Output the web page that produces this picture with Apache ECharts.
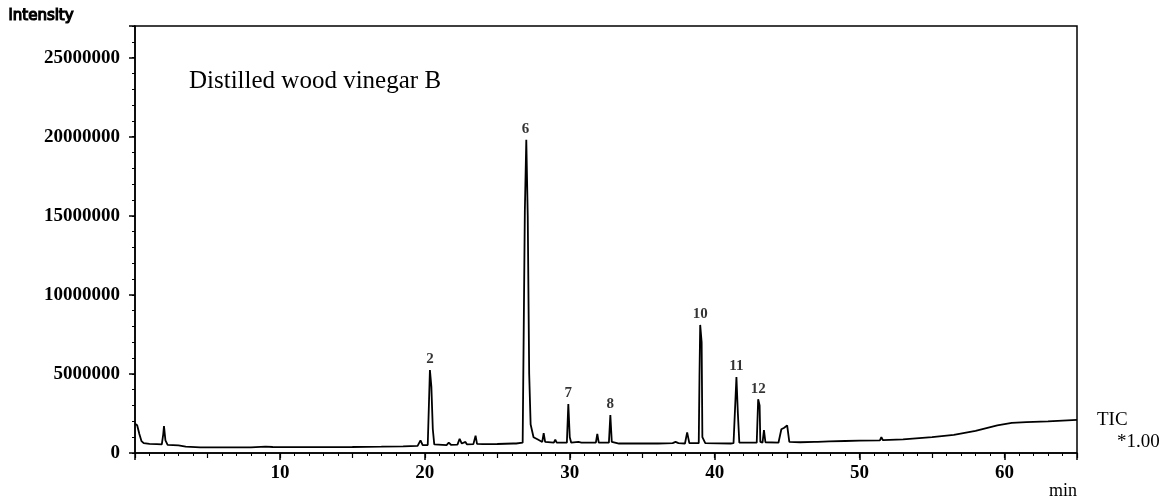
<!DOCTYPE html>
<html>
<head>
<meta charset="utf-8">
<title>Distilled wood vinegar B</title>
<script src="https://cdn.jsdelivr.net/npm/echarts@6/dist/echarts.min.js"></script>
<style>
  html, body { margin: 0; padding: 0; background: #fff; }
  #main { width: 1165px; height: 501px; }
</style>
</head>
<body>
<div id="main"></div>
<script>
// retention time (min) and intensity
const times = [
  0.0, 0.05, 0.15, 0.3, 0.45, 0.6, 1.0, 1.5, 1.85, 1.95, 2.0, 2.1, 2.25, 3.0, 3.5, 4.5,
  6.0, 8.0, 9.0, 9.5, 12.0, 15.0, 17.0, 18.5, 19.5, 19.7, 19.85, 20.2, 20.35, 20.45,
  20.55, 20.65, 21.5, 21.65, 21.8, 22.25, 22.4, 22.55, 22.8, 22.9, 23.0, 23.35, 23.5,
  23.6, 24.0, 25.0, 26.1, 26.2, 26.3, 26.75, 26.9, 27.0, 27.1, 27.2, 27.3, 27.5, 27.8,
  28.1, 28.2, 28.3, 28.4, 28.9, 29.0, 29.1, 29.8, 29.9, 30.0, 30.1, 30.6, 30.7, 30.8,
  31.8, 31.9, 32.0, 32.7, 32.8, 32.9, 33.4, 35.9, 36.0, 36.1, 37.1, 37.3, 37.5, 37.95,
  38.1, 38.25, 38.9, 38.95, 39.0, 39.1, 39.15, 39.35, 41.1, 41.2, 41.3, 41.4, 41.5,
  41.6, 41.7, 42.9, 43.0, 43.1, 43.15, 43.3, 43.4, 43.5, 44.4, 44.6, 44.8, 45.0, 45.15,
  45.9, 46.9, 47.0, 47.1, 47.9, 49.0, 50.0, 51.4, 51.5, 51.6, 53.0, 55.0, 56.5, 58.0,
  59.5, 60.5, 61.5, 63.0, 65.0
];
const intensity = [
  1850000, 1900000, 1750000, 1200000, 750000, 620000, 580000, 560000, 540000, 1200000, 1700000, 800000, 520000, 480000, 400000, 360000,
  350000, 360000, 400000, 380000, 370000, 380000, 400000, 420000, 450000, 800000, 500000, 500000, 5250000, 4200000,
  1500000, 550000, 500000, 650000, 520000, 530000, 900000, 600000, 700000, 550000, 560000, 560000, 1100000,
  580000, 560000, 570000, 600000, 700000, 600000, 650000, 15300000, 19800000, 15000000, 5000000, 1800000, 1000000, 850000,
  700000, 1250000, 700000, 650000, 650000, 850000, 650000, 650000, 3100000, 1000000, 650000, 700000, 800000, 660000,
  650000, 1200000, 660000, 650000, 2400000, 700000, 600000, 600000, 700000, 600000, 620000, 700000, 620000, 600000,
  1300000, 620000, 620000, 4800000, 8100000, 7000000, 1000000, 620000, 600000, 700000, 620000, 640000, 4800000,
  2500000, 650000, 650000, 3400000, 3000000, 700000, 650000, 1450000, 680000, 650000, 1500000, 1600000, 1750000, 700000,
  680000, 700000, 800000, 700000, 740000, 760000, 780000, 800000, 1000000, 820000, 860000, 1000000, 1150000, 1400000,
  1750000, 1900000, 1950000, 2000000, 2100000
];

// numbered peaks
const peakNames = ['2', '6', '7', '8', '10', '11', '12'];
const peakTimes = [20.35, 26.95, 29.9, 32.8, 39.0, 41.5, 43.0];
const peakHeights = [5250000, 19800000, 3100000, 2400000, 8100000, 4800000, 3400000];

const yTicks = [0, 5000000, 10000000, 15000000, 20000000, 25000000];
const xTicks = [10, 20, 30, 40, 50, 60];

const serif = 'Liberation Serif';

const chart = echarts.init(document.getElementById('main'), null, { renderer: 'canvas' });

const option = {
  animation: false,
  backgroundColor: '#fff',
  title: {
    text: 'Distilled wood vinegar B',
    left: 184,
    top: 64,
    textStyle: { fontFamily: serif, fontSize: 25, fontWeight: 'normal', color: '#000' }
  },
  grid: {
    left: 135,
    right: 88,
    top: 26,
    bottom: 48,
    show: true,
    borderColor: '#000',
    borderWidth: 1.5
  },
  xAxis: [
    {
      type: 'value',
      min: 0,
      max: 65,
      interval: 10,
      axisLine: { lineStyle: { color: '#000', width: 1.5 } },
      axisTick: { length: 7, lineStyle: { color: '#000', width: 1.5 } },
      splitLine: { show: false },
      axisLabel: {
        margin: 11,
        color: '#000',
        fontFamily: serif,
        fontSize: 19,
        fontWeight: 'bold',
        formatter: v => (xTicks.indexOf(v) >= 0 ? String(v) : '')
      }
    },
    {
      // 5 min ticks
      type: 'value',
      min: 0,
      max: 65,
      interval: 5,
      position: 'bottom',
      axisLine: { show: false },
      axisTick: { length: 5, lineStyle: { color: '#000', width: 1.2 } },
      axisLabel: { show: false },
      splitLine: { show: false }
    },
    {
      // 1 min ticks
      type: 'value',
      min: 0,
      max: 65,
      interval: 1,
      position: 'bottom',
      axisLine: { show: false },
      axisTick: { length: 3, lineStyle: { color: '#000', width: 1 } },
      axisLabel: { show: false },
      splitLine: { show: false }
    }
  ],
  yAxis: [
    {
      type: 'value',
      min: 0,
      max: 27000000,
      interval: 5000000,
      axisLine: { show: true, lineStyle: { color: '#000', width: 1.5 } },
      axisTick: { show: true, length: 6, lineStyle: { color: '#000', width: 1.5 } },
      splitLine: { show: false },
      axisLabel: {
        margin: 15,
        color: '#000',
        fontFamily: serif,
        fontSize: 19,
        fontWeight: 'bold',
        formatter: v => (yTicks.indexOf(v) >= 0 ? String(v) : '')
      }
    },
    {
      type: 'value',
      min: 0,
      max: 27000000,
      interval: 1000000,
      position: 'left',
      axisLine: { show: false },
      axisTick: { show: true, length: 3, lineStyle: { color: '#000', width: 1 } },
      axisLabel: { show: false },
      splitLine: { show: false }
    }
  ],
  series: [
    {
      name: 'TIC',
      type: 'line',
      data: times.map((t, i) => [t, intensity[i]]),
      showSymbol: false,
      symbol: 'none',
      lineStyle: { color: '#000', width: 1.8 },
      z: 3
    },
    {
      name: 'peaks',
      type: 'scatter',
      data: peakTimes.map((t, i) => [t, peakHeights[i], peakNames[i]]),
      symbolSize: 0,
      label: {
        show: true,
        position: 'top',
        distance: 3,
        color: '#000',
        fontFamily: serif,
        fontSize: 15,
        fontWeight: 'bold',
        formatter: p => p.data[2]
      },
      silent: true,
      z: 4
    }
  ],
  graphic: [
    {
      type: 'text',
      left: 8,
      top: 8,
      style: { text: 'intensity', fontFamily: 'DejaVu Sans', fontSize: 15, fontWeight: 'normal', fill: '#000' }
    },
    {
      type: 'text',
      left: 1049,
      top: 482,
      style: { text: 'min', fontFamily: serif, fontSize: 18, fill: '#000' }
    },
    {
      type: 'text',
      left: 1097,
      top: 411,
      style: { text: 'TIC', fontFamily: serif, fontSize: 19, fill: '#000' }
    },
    {
      type: 'text',
      left: 1117,
      top: 433,
      style: { text: '*1.00', fontFamily: serif, fontSize: 19, fill: '#000' }
    }
  ]
};

chart.setOption(option);

// short lead line from the end of the trace to the "TIC" tag
const endPt = chart.convertToPixel({ gridIndex: 0 }, [times[times.length - 1], intensity[intensity.length - 1]]);
chart.setOption({
  graphic: [
    {
      type: 'line',
      shape: { x1: endPt[0], y1: endPt[1], x2: endPt[0] + 15, y2: endPt[1] },
      style: { stroke: '#000', lineWidth: 1.2 }
    }
  ]
});

window.addEventListener('resize', () => chart.resize());
</script>
</body>
</html>
